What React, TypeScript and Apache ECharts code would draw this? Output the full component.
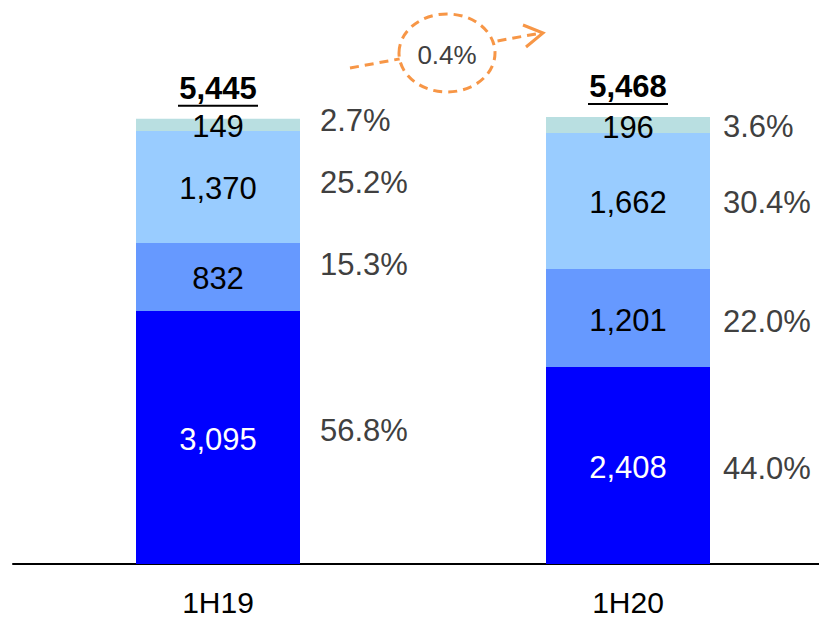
import React, { useEffect, useRef } from "react";
import * as echarts from "echarts";

const categories = ["1H19", "1H20"];
const seg1 = [3095, 2408];
const seg2 = [832, 1201];
const seg3 = [1370, 1662];
const seg4 = [149, 196];
const totals = [5445, 5468];
const growthLabel = "0.4%";

const segs = [seg1, seg2, seg3, seg4];
const segColors = ["#0000FF", "#6699FF", "#99CCFF", "#B9DFE1"];
const segLabelColors = ["#FFFFFF", "#000000", "#000000", "#000000"];
// label placement tweaks (style only): [category][segment] offsets
const pctOffsets = [
  [[0, -7], [0, -12], [0, -4], [0, -4]],
  [[0, 3], [0, 3], [0, 2], [0, 1]],
];
const pctDistance = [20, 13];

const fmt = (v: number) => v.toLocaleString("en-US");
const FONT = "Liberation Sans, Arial, sans-serif";

export default function App() {
  const ref = useRef<HTMLDivElement>(null);
  useEffect(() => {
    if (!ref.current) return;
    const chart = echarts.init(ref.current, null, { renderer: "svg" });
    const series: any[] = [];
    segs.forEach((arr, si) => {
      series.push({
        type: "bar",
        stack: "main",
        barWidth: 164,
        barGap: "-100%",
        data: arr,
        itemStyle: { color: segColors[si] },
        label: {
          show: true,
          position: "inside",
          color: segLabelColors[si],
          fontSize: 31,
          fontFamily: FONT,
          offset: [0, 2],
          formatter: (p: any) => fmt(p.value),
        },
      });
    });
    series.push({
      type: "bar",
      stack: "main",
      barWidth: 164,
      data: totals.map(() => 0),
      itemStyle: { color: "transparent" },
      label: {
        show: true,
        position: "top",
        distance: 12,
        formatter: (p: any) => `{t|${fmt(totals[p.dataIndex])}}\n{u| }`,
        rich: {
          t: { fontSize: 31, fontWeight: "bold", color: "#000", fontFamily: FONT, lineHeight: 32, align: "center" },
          u: { backgroundColor: "#000", width: 80, height: 2, lineHeight: 2, fontSize: 1, align: "center" },
        },
      },
    });
    segs.forEach((arr, si) => {
      series.push({
        type: "bar",
        stack: "pct",
        barWidth: 164,
        barGap: "-100%",
        silent: true,
        itemStyle: { color: "transparent" },
        data: arr.map((v, ci) => ({
          value: v,
          label: { offset: pctOffsets[ci][si], distance: pctDistance[ci] },
        })),
        label: {
          show: true,
          position: "right",
          color: "#404040",
          fontSize: 31,
          fontFamily: FONT,
          formatter: (p: any) => ((p.value / totals[p.dataIndex]) * 100).toFixed(1) + "%",
        },
      });
    });

    const orange = "#F79646";
    chart.setOption({
      animation: false,
      grid: { left: 13, width: 820, top: 8, bottom: 51 },
      xAxis: {
        type: "category",
        data: categories,
        axisLine: { lineStyle: { color: "#000", width: 2 } },
        axisTick: { show: false },
        axisLabel: { color: "#000", fontSize: 30, lineHeight: 28, fontFamily: FONT, margin: 24 },
      },
      yAxis: { type: "value", min: 0, max: 6800, show: false, splitLine: { show: false } },
      series,
      graphic: [
        {
          type: "line",
          z: 10,
          shape: { x1: 350, y1: 68, x2: 541, y2: 33 },
          style: { stroke: orange, lineWidth: 3, lineDash: [9, 6] },
        },
        {
          type: "polyline",
          z: 10,
          shape: { points: [[523, 25], [543, 33], [526, 47]] },
          style: { stroke: orange, lineWidth: 3, fill: "none" },
        },
        {
          type: "ellipse",
          z: 11,
          shape: { cx: 447, cy: 53, rx: 48, ry: 39 },
          style: { stroke: orange, lineWidth: 3, lineDash: [9, 6], fill: "#FFFFFF" },
        },
        {
          type: "text",
          z: 12,
          x: 447,
          y: 55,
          style: {
            text: growthLabel,
            fontSize: 26,
            fontFamily: FONT,
            fill: "#404040",
            align: "center",
            verticalAlign: "middle",
          },
        },
      ],
    });
    return () => chart.dispose();
  }, []);
  return (
    <div style={{ position: "fixed", left: 0, top: 0, width: 819, height: 617, overflow: "hidden", background: "#fff" }}>
      <div ref={ref} style={{ position: "absolute", left: 0, top: 0, width: 850, height: 617 }} />
    </div>
  );
}
